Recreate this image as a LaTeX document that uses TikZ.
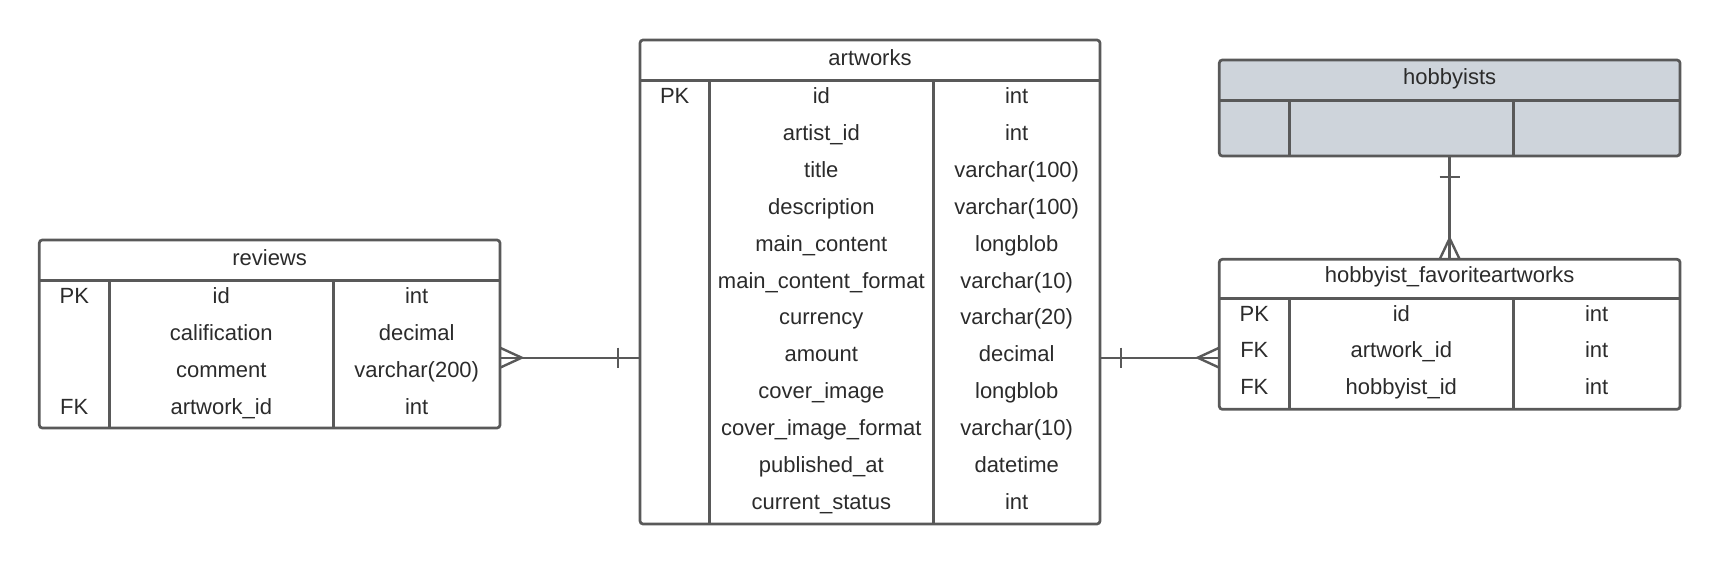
\documentclass[tikz,border=0pt]{standalone}
\usepackage{fontspec}
\setmainfont{Liberation Sans}
\usetikzlibrary{calc}
\definecolor{lnc}{HTML}{595959}
\definecolor{txc}{HTML}{2B2B2B}
\definecolor{hbc}{HTML}{CED4DB}
\begin{document}
\begin{tikzpicture}[x=1pt,y=-1pt,
  tbl/.style={draw=lnc,line width=2.7pt,rounded corners=3pt,inner sep=0pt,outer sep=0pt,anchor=north west},
  inner/.style={draw=lnc,line width=2.7pt},
  rel/.style={draw=lnc,line width=2.4pt},
  txt/.style={text=txc,font=\fontsize{22}{26}\selectfont,anchor=base,inner sep=0pt}]
\useasboundingbox (0,0) rectangle (1720,564);

% ---------- reviews ----------
\node[tbl,minimum width=460.7pt,minimum height=188pt] (rev) at (39.3,240) {};
\draw[inner] (39.3,280.7) -- (500,280.7);
\draw[inner] (109.3,280.7) -- (109.3,428);
\draw[inner] (333.3,280.7) -- (333.3,428);
\node[txt] (revt) at (269.6,265.1) {reviews};
\foreach \k/\n/\t [count=\i from 0] in {PK/id/int, /calification/decimal, /comment/varchar(200), FK/artwork\_id/int}{
  \node[txt] (revk\i) at (74.3,303.5+36.9*\i) {\k};
  \node[txt] (revn\i) at (221.3,303.5+36.9*\i) {\n};
  \node[txt] (revy\i) at (416.7,303.5+36.9*\i) {\t};
}

% ---------- artworks ----------
\node[tbl,minimum width=460pt,minimum height=484pt] (art) at (640,40) {};
\draw[inner] (640,80.7) -- (1100,80.7);
\draw[inner] (709.3,80.7) -- (709.3,524);
\draw[inner] (933.3,80.7) -- (933.3,524);
\node[txt] (artt) at (870,65.1) {artworks};
\foreach \k/\n/\t [count=\i from 0] in {PK/id/int, /artist\_id/int, /title/varchar(100), /description/varchar(100), /main\_content/longblob, /main\_content\_format/varchar(10), /currency/varchar(20), /amount/decimal, /cover\_image/longblob, /cover\_image\_format/varchar(10), /published\_at/datetime, /current\_status/int}{
  \node[txt] (artk\i) at (674.7,103.5+36.9*\i) {\k};
  \node[txt] (artn\i) at (821.3,103.5+36.9*\i) {\n};
  \node[txt] (arty\i) at (1016.7,103.5+36.9*\i) {\t};
}

% ---------- hobbyists ----------
\node[tbl,fill=hbc,minimum width=460.7pt,minimum height=96pt] (hob) at (1219.3,60) {};
\draw[inner] (1219.3,100.7) -- (1680,100.7);
\draw[inner] (1289.3,100.7) -- (1289.3,156);
\draw[inner] (1513.3,100.7) -- (1513.3,156);
\node[txt] (hobt) at (1449.65,84.1) {hobbyists};

% ---------- hobbyist_favoriteartworks ----------
\node[tbl,minimum width=460.7pt,minimum height=150pt] (hfav) at (1219.3,259.3) {};
\draw[inner] (1219.3,298.3) -- (1680,298.3);
\draw[inner] (1289.3,298.3) -- (1289.3,409.3);
\draw[inner] (1513.3,298.3) -- (1513.3,409.3);
\node[txt] (hfavt) at (1449.65,282.8) {hobbyist\_favoriteartworks};
\foreach \k/\n/\t [count=\i from 0] in {PK/id/int, FK/artwork\_id/int, FK/hobbyist\_id/int}{
  \node[txt] (hfk\i) at (1254.3,321.1+36.7*\i) {\k};
  \node[txt] (hfn\i) at (1401.3,321.1+36.7*\i) {\n};
  \node[txt] (hfy\i) at (1596.7,321.1+36.7*\i) {\t};
}

% ---------- relationships ----------
\coordinate (ya) at (0,357.7);
% reviews -- artworks
\draw[rel] (rev.east |- ya) -- (art.west |- ya);
\draw[rel] ($(rev.east |- ya)+(0,-10)$) -- ($(rev.east |- ya)+(21.7,0)$) -- ($(rev.east |- ya)+(0,10)$);
\draw[rel] ($(art.west |- ya)+(-22.3,-10)$) -- ($(art.west |- ya)+(-22.3,10)$);
% artworks -- hobbyist_favoriteartworks
\draw[rel] (art.east |- ya) -- (hfav.west |- ya);
\draw[rel] ($(art.east |- ya)+(20.7,-10)$) -- ($(art.east |- ya)+(20.7,10)$);
\draw[rel] ($(hfav.west |- ya)+(0,-10)$) -- ($(hfav.west |- ya)+(-21.6,0)$) -- ($(hfav.west |- ya)+(0,10)$);
% hobbyists -- hobbyist_favoriteartworks
\draw[rel] (hob.south) -- (hfav.north);
\draw[rel] ($(hob.south)+(-10,21.3)$) -- ($(hob.south)+(10,21.3)$);
\draw[rel] ($(hfav.north)+(-10,0)$) -- ($(hfav.north)+(0,-21)$) -- ($(hfav.north)+(10,0)$);
\end{tikzpicture}
\end{document}
